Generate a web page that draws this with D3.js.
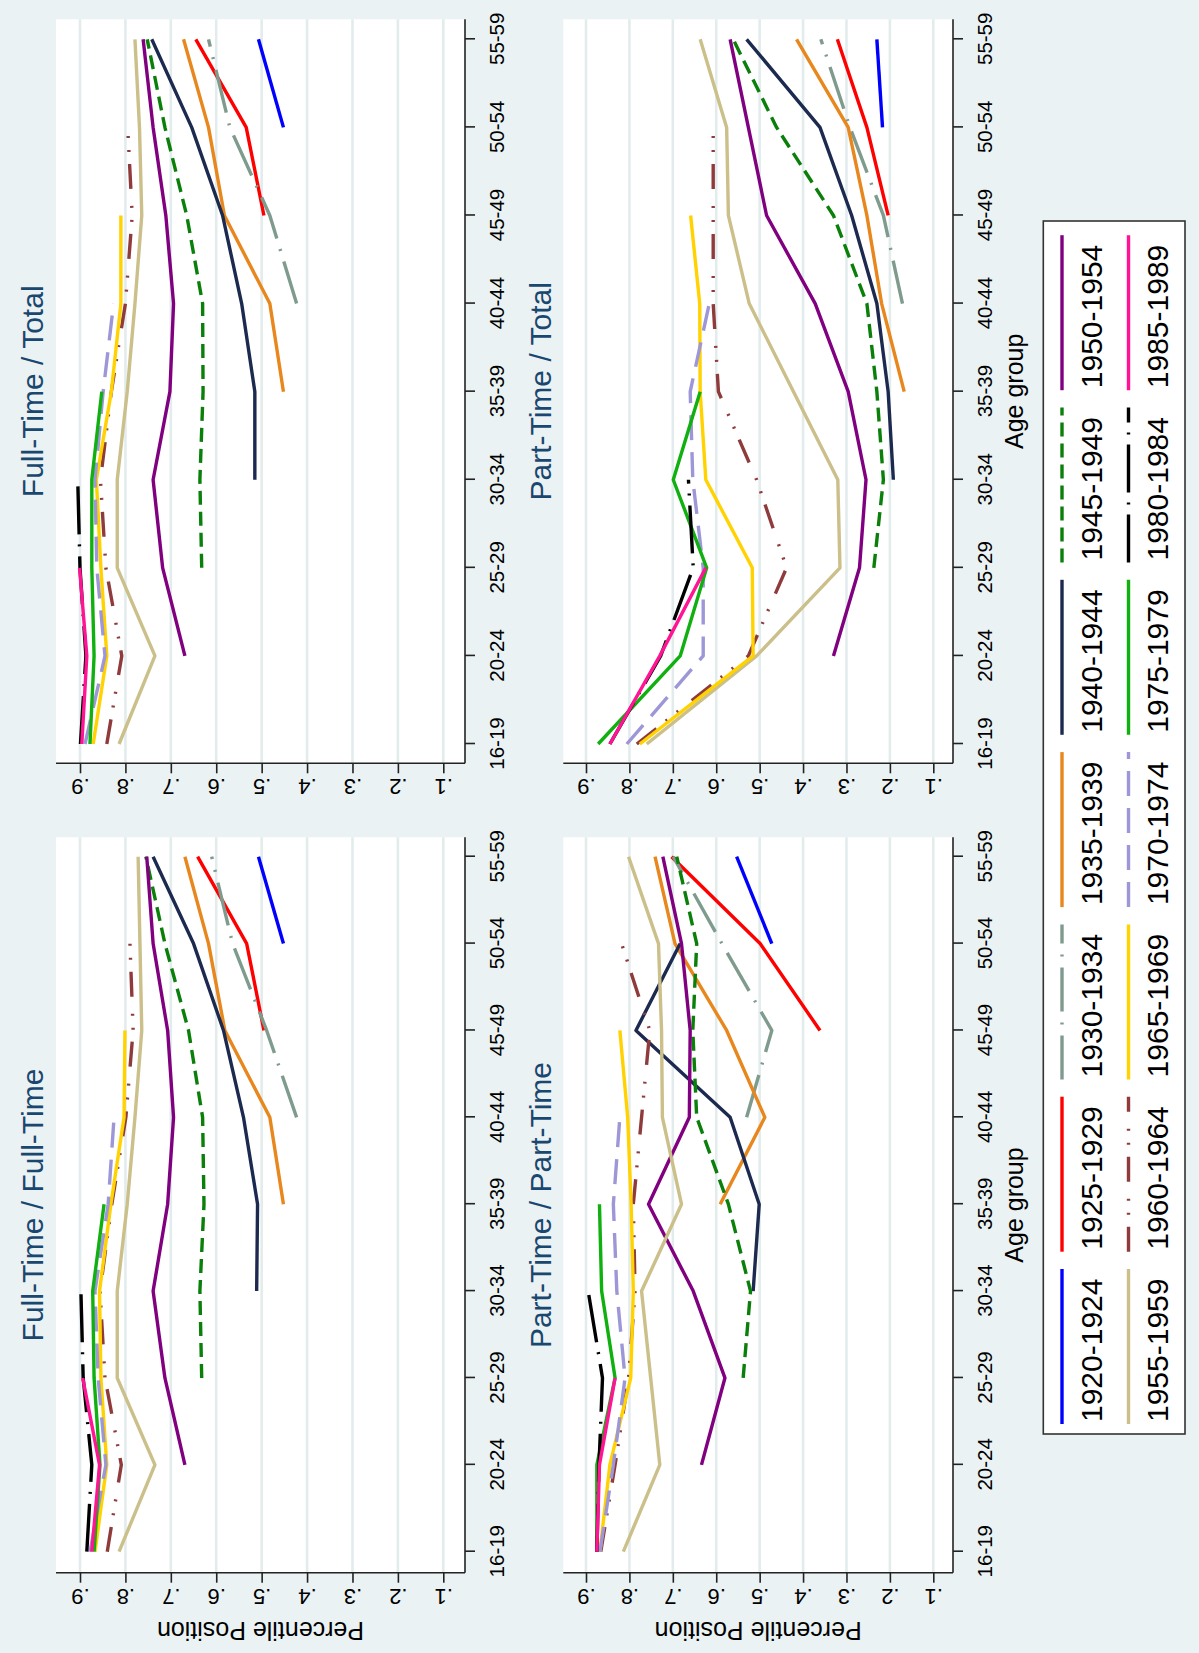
<!DOCTYPE html>
<html>
<head>
<meta charset="utf-8">
<script src="https://cdn.jsdelivr.net/npm/d3@7"></script>
<style>
  body { margin: 0; background: #eaf2f3; }
  svg { display: block; }
</style>
</head>
<body>
<svg id="chart" width="1199" height="1653"></svg>
<script>
// ---- data -------------------------------------------------------------
const ageGroups = ["16-19", "20-24", "25-29", "30-34", "35-39", "40-44", "45-49", "50-54", "55-59"];
const cohorts = ["1920-1924", "1925-1929", "1930-1934", "1935-1939", "1940-1944", "1945-1949", "1950-1954",
                 "1955-1959", "1960-1964", "1965-1969", "1970-1974", "1975-1979", "1980-1984", "1985-1989"];
const valueTicks = [0.1, 0.2, 0.3, 0.4, 0.5, 0.6, 0.7, 0.8, 0.9];
const valueTickLabels = [".1", ".2", ".3", ".4", ".5", ".6", ".7", ".8", ".9"];
const _ = null;

// percentile position by cohort (rows) and age group (columns)
const fullFull = [
  [_, _, _, _, _, _, _, 0.452, 0.507],
  [_, _, _, _, _, _, 0.495, 0.533, 0.641],
  [_, _, _, _, _, 0.423, 0.489, 0.564, 0.610],
  [_, _, _, _, 0.452, 0.482, 0.581, 0.617, 0.669],
  [_, _, _, 0.511, 0.509, 0.540, 0.584, 0.650, 0.739],
  [_, _, 0.632, 0.636, 0.627, 0.630, 0.661, 0.713, 0.755],
  [_, 0.669, 0.713, 0.739, 0.707, 0.694, 0.707, 0.739, 0.753],
  [0.814, 0.735, 0.818, 0.818, 0.796, 0.779, 0.764, 0.768, 0.772],
  [0.840, 0.809, 0.845, 0.856, 0.830, 0.799, 0.783, 0.790, _],
  [0.867, 0.841, 0.854, 0.857, 0.832, 0.803, 0.801, _, _],
  [0.878, 0.843, 0.860, 0.867, 0.838, 0.825, _, _, _],
  [0.869, 0.856, 0.869, 0.872, 0.847, _, _, _, _],
  [0.885, 0.874, 0.893, 0.898, _, _, _, _, _],
  [0.874, 0.857, 0.894, _, _, _, _, _, _]
];
const fullTotal = [
  [_, _, _, _, _, _, _, 0.452, 0.507],
  [_, _, _, _, _, _, 0.495, 0.534, 0.645],
  [_, _, _, _, _, 0.423, 0.482, 0.570, 0.617],
  [_, _, _, _, 0.452, 0.482, 0.582, 0.617, 0.672],
  [_, _, _, 0.515, 0.515, 0.544, 0.586, 0.654, 0.742],
  [_, _, 0.632, 0.636, 0.629, 0.630, 0.665, 0.713, 0.752],
  [_, 0.669, 0.718, 0.739, 0.702, 0.694, 0.711, 0.739, 0.761],
  [0.814, 0.735, 0.818, 0.818, 0.796, 0.779, 0.764, 0.769, 0.779],
  [0.841, 0.808, 0.843, 0.855, 0.831, 0.800, 0.785, 0.795, _],
  [0.871, 0.841, 0.854, 0.864, 0.831, 0.810, 0.810, _, _],
  [0.889, 0.845, 0.863, 0.867, 0.849, 0.826, _, _, _],
  [0.878, 0.869, 0.874, 0.874, 0.852, _, _, _, _],
  [0.899, 0.887, 0.900, 0.905, _, _, _, _, _],
  [0.896, 0.885, 0.901, _, _, _, _, _, _]
];
const partPart = [
  [_, _, _, _, _, _, _, 0.472, 0.553],
  [_, _, _, _, _, _, 0.361, 0.499, 0.703],
  [_, _, _, _, _, 0.530, 0.472, 0.587, 0.699],
  [_, _, _, _, 0.591, 0.488, 0.576, 0.695, 0.741],
  [_, _, _, 0.515, 0.501, 0.568, 0.785, 0.683, _],
  [_, _, 0.538, 0.521, 0.572, 0.645, 0.654, 0.645, 0.691],
  [_, 0.634, 0.580, 0.653, 0.756, 0.662, 0.660, 0.680, 0.723],
  [0.814, 0.730, 0.751, 0.772, 0.680, 0.724, 0.726, 0.733, 0.802],
  [0.866, 0.833, 0.802, 0.787, 0.791, 0.772, 0.753, 0.818, _],
  [0.868, 0.845, 0.797, 0.791, 0.796, 0.804, 0.822, _, _],
  [0.868, 0.837, 0.810, 0.829, 0.837, 0.822, _, _, _],
  [0.875, 0.875, 0.833, 0.864, 0.869, _, _, _, _],
  [0.875, 0.870, 0.862, 0.895, _, _, _, _, _],
  [0.875, 0.869, 0.833, _, _, _, _, _, _]
];
const partTotal = [
  [_, _, _, _, _, _, _, 0.217, 0.230],
  [_, _, _, _, _, _, 0.204, 0.253, 0.321],
  [_, _, _, _, _, 0.171, 0.215, 0.292, 0.359],
  [_, _, _, _, 0.167, 0.219, 0.253, 0.296, 0.415],
  [_, _, _, 0.192, 0.204, 0.230, 0.288, 0.361, 0.530],
  [_, _, 0.237, 0.215, 0.230, 0.253, 0.330, 0.461, 0.561],
  [_, 0.330, 0.270, 0.255, 0.296, 0.372, 0.484, 0.526, 0.568],
  [0.760, 0.507, 0.315, 0.320, 0.422, 0.524, 0.572, 0.576, 0.637],
  [0.783, 0.526, 0.438, 0.507, 0.595, 0.607, 0.607, 0.607, _],
  [0.776, 0.515, 0.517, 0.624, 0.637, 0.638, 0.659, _, _],
  [0.806, 0.630, 0.630, 0.654, 0.660, 0.616, _, _, _],
  [0.872, 0.683, 0.622, 0.699, 0.637, _, _, _, _],
  [0.845, 0.728, 0.653, 0.664, _, _, _, _, _],
  [0.845, 0.730, 0.624, _, _, _, _, _, _]
];

// ---- styles -----------------------------------------------------------
const cohortColors = ["#0000ff", "#ff0000", "#7f9b8d", "#e8871e", "#1c2a50", "#0a7f0a", "#800080",
                      "#cbbf8a", "#8f3b3b", "#ffd200", "#9d97d8", "#10b010", "#000000", "#ff1493"];
const cohortDashes = [null, null, "44,11,2,11", null, null, "14,7", null,
                      null, "25,12,2,12,2,17", null, "25,12", null, "48,10,2,10", null];

const FONT = "'Liberation Sans', Arial, Helvetica, sans-serif";
const TITLE_COLOR = "#1a476f";

// ---- layout (drawn in a landscape frame, then turned to portrait) ------
const W = 1653, H = 1199;
const cols = [
  { x0: 80.3, x1: 815.7, a0: 101.3, a1: 796.3 },
  { x0: 889.7, x1: 1633.7, a0: 909, a1: 1613.7 }
];
const rows = [
  { y0: 56, y1: 465, top: 80, bottom: 443.3, titleY: 42.7 },
  { y0: 563.3, y1: 953, top: 586, bottom: 933.3, titleY: 550.7 }
];
const panels = [
  { title: "Full-Time / Full-Time", data: fullFull, col: 0, row: 0 },
  { title: "Full-Time / Total", data: fullTotal, col: 1, row: 0 },
  { title: "Part-Time / Part-Time", data: partPart, col: 0, row: 1 },
  { title: "Part-Time / Total", data: partTotal, col: 1, row: 1 }
];

const svg = d3.select("#chart");
svg.append("rect").attr("width", 1199).attr("height", 1653).attr("fill", "#eaf2f3");

const root = svg.append("g").attr("transform", `translate(0,${W}) rotate(-90)`);

panels.forEach(p => {
  const c = cols[p.col], r = rows[p.row];
  const x = d3.scalePoint().domain(ageGroups).range([c.a0, c.a1]);
  const y = d3.scaleLinear().domain([0.1, 0.9]).range([r.bottom, r.top]);
  const g = root.append("g");

  // plot region
  g.append("rect")
    .attr("x", c.x0).attr("y", r.y0)
    .attr("width", c.x1 - c.x0).attr("height", r.y1 - r.y0)
    .attr("fill", "#ffffff");

  // grid
  g.append("g").selectAll("line").data(valueTicks).join("line")
    .attr("x1", c.x0).attr("x2", c.x1)
    .attr("y1", d => y(d)).attr("y2", d => y(d))
    .attr("stroke", "#e3eced").attr("stroke-width", 2.6);

  // value axis
  const yAxis = g.append("g").attr("transform", `translate(${c.x0},0)`)
    .call(d3.axisLeft(y).tickValues(valueTicks).tickSize(10)
      .tickFormat((d, i) => valueTickLabels[i]));
  yAxis.select(".domain").remove();
  yAxis.selectAll(".tick line").attr("stroke", "#222").attr("stroke-width", 1.6);
  yAxis.selectAll(".tick text")
    .attr("x", null).attr("dy", null)
    .attr("text-anchor", "middle")
    .attr("transform", "translate(-16,0) rotate(-90)")
    .attr("font-family", FONT).attr("font-size", 22).attr("fill", "#000");
  g.append("line")
    .attr("x1", c.x0).attr("x2", c.x0).attr("y1", r.y0).attr("y2", r.y1)
    .attr("stroke", "#222").attr("stroke-width", 1.6);

  // age axis
  const xAxis = g.append("g").attr("transform", `translate(0,${r.y1})`)
    .call(d3.axisBottom(x).tickSize(10));
  xAxis.select(".domain").remove();
  xAxis.selectAll(".tick line").attr("stroke", "#222").attr("stroke-width", 1.6);
  xAxis.selectAll(".tick text")
    .attr("y", 39).attr("dy", null)
    .attr("font-family", FONT).attr("font-size", 20.5).attr("fill", "#000");
  g.append("line")
    .attr("x1", c.x0).attr("x2", c.x1).attr("y1", r.y1).attr("y2", r.y1)
    .attr("stroke", "#222").attr("stroke-width", 1.6);

  // series
  const line = d3.line()
    .defined(d => d != null)
    .x((d, i) => x(ageGroups[i]))
    .y(d => y(d));
  g.append("g").selectAll("path").data(p.data).join("path")
    .attr("d", line)
    .attr("fill", "none")
    .attr("stroke", (d, i) => cohortColors[i])
    .attr("stroke-width", 3.4)
    .attr("stroke-dasharray", (d, i) => cohortDashes[i])
    .attr("stroke-linejoin", "round");

  // titles
  g.append("text")
    .attr("x", (c.x0 + c.x1) / 2).attr("y", r.titleY)
    .attr("text-anchor", "middle")
    .attr("font-family", FONT).attr("font-size", 30).attr("fill", TITLE_COLOR)
    .text(p.title);

  if (p.col === 0) {
    g.append("text")
      .attr("text-anchor", "middle")
      .attr("transform", `translate(31,${(r.y0 + r.y1) / 2}) rotate(-90)`)
      .attr("font-family", FONT).attr("font-size", 25).attr("fill", "#000")
      .text("Percentile Position");
  }
  if (p.row === 1) {
    g.append("text")
      .attr("x", (c.x0 + c.x1) / 2).attr("y", 1023)
      .attr("text-anchor", "middle")
      .attr("font-family", FONT).attr("font-size", 25).attr("fill", "#000")
      .text("Age group");
  }
});

// legend
const legend = root.append("g");
legend.append("rect")
  .attr("x", 219).attr("y", 1043.3).attr("width", 1213).attr("height", 141.7)
  .attr("fill", "#ffffff").attr("stroke", "#333").attr("stroke-width", 1.6);
const entries = legend.selectAll("g.entry").data(cohorts).join("g")
  .attr("class", "entry")
  .attr("transform", (d, i) => `translate(${229 + 172.3 * (i % 7)},${Math.floor(i / 7) * 66.5})`);
entries.append("line")
  .attr("x1", 0).attr("x2", 155).attr("y1", 1062).attr("y2", 1062)
  .attr("stroke", (d, i) => cohortColors[i])
  .attr("stroke-width", 3.4)
  .attr("stroke-dasharray", (d, i) => cohortDashes[i]);
entries.append("text")
  .attr("x", 2).attr("y", 1101.5)
  .attr("font-family", FONT).attr("font-size", 30).attr("fill", "#000")
  .text(d => d);
</script>
</body>
</html>
